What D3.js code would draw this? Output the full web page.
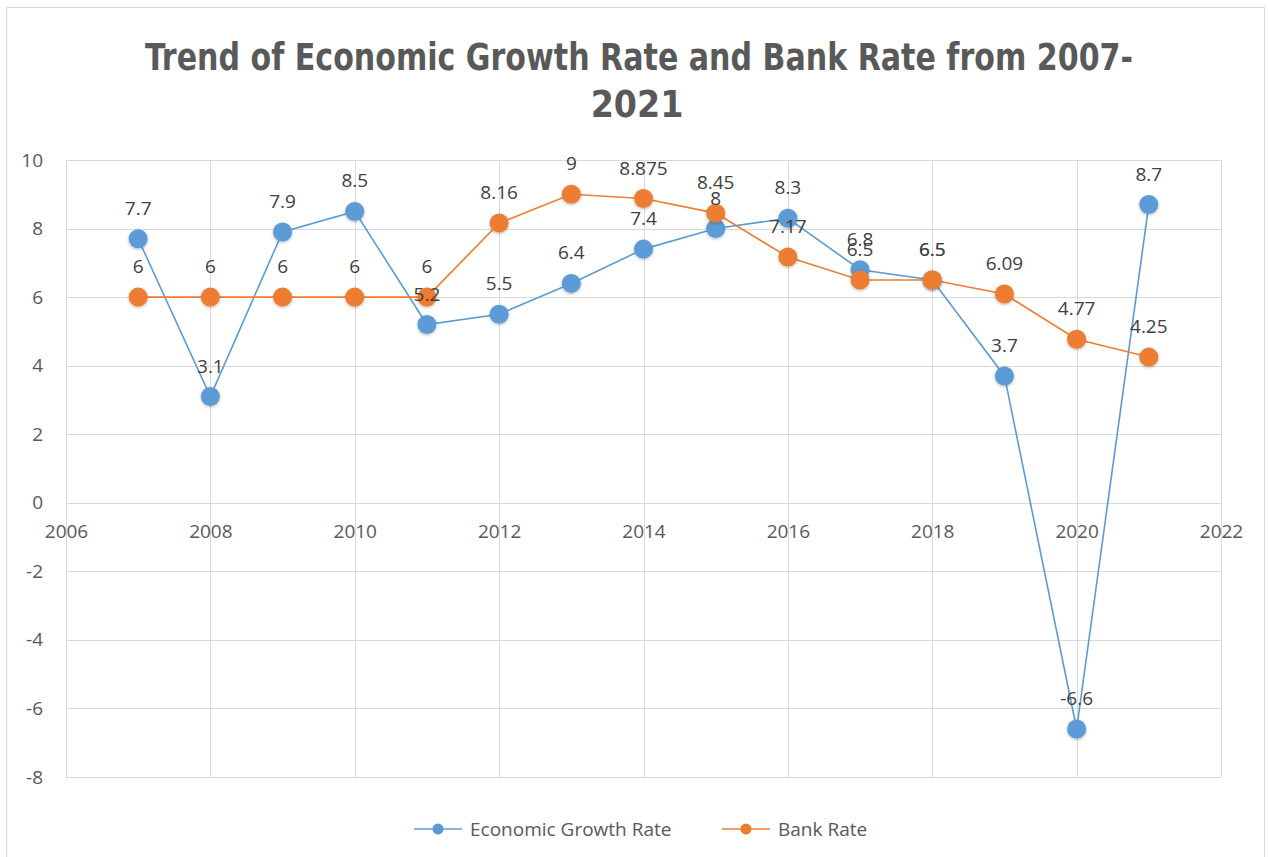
<!DOCTYPE html>
<html>
<head>
<meta charset="utf-8">
<script src="https://cdn.jsdelivr.net/npm/d3@7"></script>
<style>
  body { margin: 0; background: #fff; }
  text { font-family: "Open Sans", "Liberation Sans", sans-serif; }
</style>
</head>
<body>
<div id="chart"></div>
<script>
// chart data
const years        = [2007, 2008, 2009, 2010, 2011, 2012, 2013, 2014, 2015, 2016, 2017, 2018, 2019, 2020, 2021];
const growthRate   = [7.7, 3.1, 7.9, 8.5, 5.2, 5.5, 6.4, 7.4, 8, 8.3, 6.8, 6.5, 3.7, -6.6, 8.7];
const bankRate     = [6, 6, 6, 6, 6, 8.16, 9, 8.875, 8.45, 7.17, 6.5, 6.5, 6.09, 4.77, 4.25];
const xTicks       = [2006, 2008, 2010, 2012, 2014, 2016, 2018, 2020, 2022];
const yTicks       = [-8, -6, -4, -2, 0, 2, 4, 6, 8, 10];
const seriesNames  = ['Economic Growth Rate', 'Bank Rate'];
const titleLines   = ['Trend of Economic Growth Rate and Bank Rate from 2007-', '2021'];

(function () {
  const W = 1270, H = 857;
  const plot = { left: 66, right: 1221, top: 160, bottom: 777 };
  const colors = ['#5B9BD5', '#ED7D31'];
  const textColor = '#595959';
  const plain = d => String(d);   // hyphen minus, like Excel

  const svg = d3.select('#chart')
    .append('svg')
    .attr('width', W)
    .attr('height', H);

  /* ─── soft glow under markers ───────────────────────────── */
  const defs = svg.append('defs');
  defs.append('filter')
      .attr('id', 'glow')
      .attr('x', '-50%').attr('y', '-50%').attr('width', '200%').attr('height', '200%')
    .append('feDropShadow')
      .attr('dx', 0).attr('dy', 1)
      .attr('stdDeviation', 1.6)
      .attr('flood-color', '#000')
      .attr('flood-opacity', 0.3);

  /* ─── chart frame ───────────────────────────────────────── */
  svg.append('rect')
      .attr('x', 6.5).attr('y', 7.5)
      .attr('width', 1258).attr('height', 870)
      .attr('fill', '#fff')
      .attr('stroke', '#d9d9d9');

  /* ─── title ─────────────────────────────────────────────── */
  const titleFont = '"Liberation Sans Narrow", "DejaVu Sans Condensed", "Open Sans", sans-serif';
  svg.append('text')
      .attr('x', 639).attr('y', 70)
      .attr('text-anchor', 'middle')
      .attr('fill', textColor)
      .style('font-family', titleFont)
      .style('font-weight', 'bold')
      .style('font-size', '37px')
      .attr('textLength', 988)
      .attr('lengthAdjust', 'spacingAndGlyphs')
      .text(titleLines[0]);

  svg.append('text')
      .attr('x', 637).attr('y', 117)
      .attr('text-anchor', 'middle')
      .attr('fill', textColor)
      .style('font-family', titleFont)
      .style('font-weight', 'bold')
      .style('font-size', '37px')
      .text(titleLines[1]);

  /* ─── scales ────────────────────────────────────────────── */
  const x = d3.scaleLinear().domain([2006, 2022]).range([plot.left, plot.right]);
  const y = d3.scaleLinear().domain([-8, 10]).range([plot.bottom, plot.top]);

  /* ─── gridlines ─────────────────────────────────────────── */
  const grid = svg.append('g').attr('class', 'grid');

  grid.selectAll('line.h')
      .data(yTicks)
      .join('line')
        .attr('class', 'h')
        .attr('x1', plot.left).attr('x2', plot.right)
        .attr('y1', d => Math.round(y(d)) + 0.5)
        .attr('y2', d => Math.round(y(d)) + 0.5)
        .attr('stroke', '#d9d9d9');

  grid.selectAll('line.v')
      .data(xTicks)
      .join('line')
        .attr('class', 'v')
        .attr('y1', plot.top).attr('y2', plot.bottom)
        .attr('x1', d => Math.round(x(d)) + 0.5)
        .attr('x2', d => Math.round(x(d)) + 0.5)
        .attr('stroke', '#d9d9d9');

  /* ─── axes (labels only, Excel style) ───────────────────── */
  const yAxisG = svg.append('g')
      .attr('transform', `translate(${plot.left},0)`)
      .call(d3.axisLeft(y).tickValues(yTicks).tickSize(0).tickPadding(23).tickFormat(plain));
  yAxisG.select('.domain').remove();
  yAxisG.selectAll('text')
      .attr('fill', textColor)
      .style('font-size', '19px')
      .style('font-family', '"Open Sans", sans-serif');

  const xAxisG = svg.append('g')
      .attr('transform', `translate(0,${y(0)})`)
      .call(d3.axisBottom(x).tickValues(xTicks).tickSize(0).tickPadding(22).tickFormat(plain));
  xAxisG.select('.domain').remove();
  xAxisG.selectAll('text')
      .attr('fill', textColor)
      .style('font-size', '19px')
      .style('font-family', '"Open Sans", sans-serif');

  /* ─── series ────────────────────────────────────────────── */
  const series = [growthRate, bankRate].map((vals, i) => ({
    name: seriesNames[i],
    color: colors[i],
    points: years.map((yr, j) => ({ year: yr, value: vals[j] }))
  }));

  const line = d3.line()
      .x(d => x(d.year))
      .y(d => y(d.value));

  series.forEach(s => {
    const g = svg.append('g').attr('class', 'series');

    g.append('path')
        .datum(s.points)
        .attr('fill', 'none')
        .attr('stroke', s.color)
        .attr('stroke-width', 1.6)
        .attr('d', line);

    g.selectAll('circle')
        .data(s.points)
        .join('circle')
          .attr('cx', d => x(d.year))
          .attr('cy', d => y(d.value))
          .attr('r', 9.5)
          .attr('fill', s.color)
          .attr('filter', 'url(#glow)');
  });

  /* ─── data labels (drawn last so they sit on top) ──────── */
  series.forEach(s => {
    svg.append('g').selectAll('text')
        .data(s.points)
        .join('text')
          .attr('x', d => x(d.year))
          .attr('y', d => y(d.value) - 24)
          .attr('text-anchor', 'middle')
          .attr('fill', '#404040')
          .style('font-size', '19px')
          .text(d => plain(d.value));
  });

  /* ─── legend ────────────────────────────────────────────── */
  const legend = svg.append('g').attr('transform', 'translate(0,829)');
  const legendX = [414, 722];
  series.forEach((s, i) => {
    const g = legend.append('g').attr('transform', `translate(${legendX[i]},0)`);
    g.append('line')
        .attr('x1', 0).attr('x2', 48)
        .attr('stroke', s.color)
        .attr('stroke-width', 1.6);
    g.append('circle')
        .attr('cx', 24).attr('r', 5.5)
        .attr('fill', s.color);
    g.append('text')
        .attr('x', 56).attr('y', 7)
        .attr('fill', textColor)
        .style('font-size', '19px')
        .text(s.name);
  });
})();
</script>
</body>
</html>
